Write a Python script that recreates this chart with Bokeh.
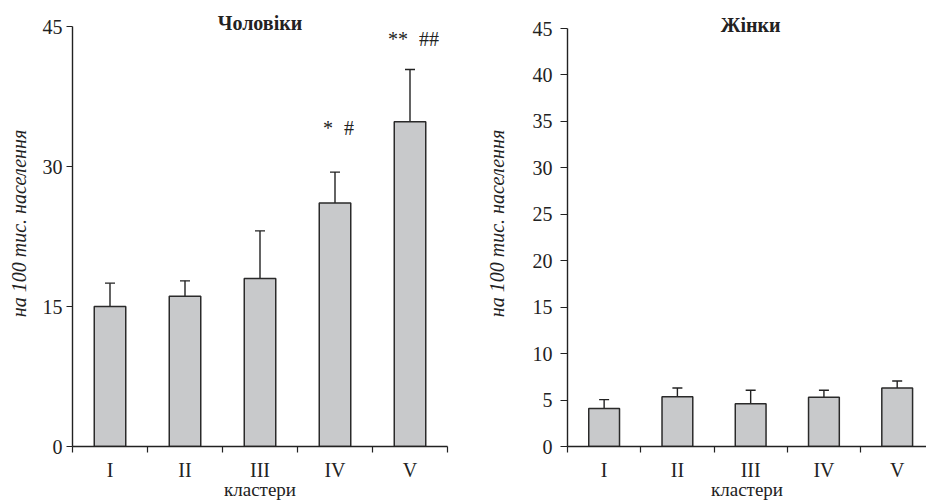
from bokeh.plotting import figure
from bokeh.models import Range1d, FixedTicker, Whisker, TeeHead, ColumnDataSource, Label
from bokeh.layouts import row
from bokeh.embed import file_html
from bokeh.resources import INLINE
from bokeh.core.properties import value

clusters = ["I", "II", "III", "IV", "V"]

men_rate = [15.0, 16.1, 18.0, 26.1, 34.8]
men_lower = [12.7, 14.1, 13.2, 22.6, 29.2]
men_upper = [17.5, 17.75, 23.1, 29.4, 40.4]
men_sig_star = ["", "", "", "*", "**"]
men_sig_hash = ["", "", "", "#", "##"]
men_sig_y = [None, None, None, 34.1, 43.7]

women_rate = [4.1, 5.35, 4.6, 5.3, 6.3]
women_lower = [3.15, 4.6, 2.9, 4.6, 5.35]
women_upper = [5.05, 6.3, 6.05, 6.05, 7.05]

men_yticks = [0, 15, 30, 45]
women_yticks = [0, 5, 10, 15, 20, 25, 30, 35, 40, 45]

SERIF = "Liberation Serif"
INK = "#222222"
HEIGHT = 502
BOTTOM = 56


def make(title, rate, lower, upper, yticks, width, x_end, bl, br, top_px,
         ylab_standoff, ytick_out, ytick_standoff):
    ymax = max(yticks)
    frame_h = HEIGHT - BOTTOM
    y_top = ymax * frame_h / (frame_h - top_px)
    xs = [i + 0.5 for i in range(len(clusters))]
    src = ColumnDataSource(dict(x=xs, top=rate, lower=lower, upper=upper))
    p = figure(width=width, height=HEIGHT, x_range=Range1d(0, x_end), y_range=Range1d(0, y_top),
               output_backend="svg", toolbar_location=None,
               min_border_left=bl, min_border_right=br, min_border_top=0, min_border_bottom=BOTTOM)
    p.outline_line_color = None
    p.xgrid.visible = False
    p.ygrid.visible = False
    p.background_fill_color = "white"
    p.border_fill_color = "white"

    p.vbar(x="x", top="top", bottom=0, width=0.42, source=src,
           fill_color="#c8c9cb", line_color="#2a2a2a", line_width=1.5)
    wh = Whisker(source=src, base="x", upper="upper", lower="lower",
                 line_color=INK, line_width=1.4,
                 upper_head=TeeHead(size=10, line_color=INK, line_width=1.4),
                 lower_head=TeeHead(size=10, line_color=INK, line_width=1.4))
    p.add_layout(wh)

    # x axis: labels at category centres, ticks between categories
    xa = p.xaxis[0]
    xa.ticker = FixedTicker(ticks=xs, minor_ticks=list(range(len(clusters) + 1)))
    xa.major_label_overrides = {x: c for x, c in zip(xs, clusters)}
    xa.major_tick_out = 0
    xa.major_tick_in = 0
    xa.minor_tick_out = 6
    xa.minor_tick_in = 0
    xa.minor_tick_line_color = INK
    xa.minor_tick_line_width = 1.2
    xa.axis_line_color = INK
    xa.axis_line_width = 1.4
    xa.major_label_text_font = SERIF
    xa.major_label_text_font_size = "20px"
    xa.major_label_text_color = INK
    xa.major_label_standoff = 6
    xa.axis_label = "кластери"
    xa.axis_label_text_font = SERIF
    xa.axis_label_text_font_style = "normal"
    xa.axis_label_text_font_size = "19px"
    xa.axis_label_text_color = INK
    xa.axis_label_standoff = -5

    ya = p.yaxis[0]
    ya.bounds = (0, ymax)
    ya.ticker = FixedTicker(ticks=yticks)
    ya.major_tick_out = ytick_out
    ya.major_tick_in = 0
    ya.minor_tick_line_color = None
    ya.major_tick_line_color = INK
    ya.major_tick_line_width = 1.2
    ya.axis_line_color = INK
    ya.axis_line_width = 1.4
    ya.major_label_text_font = SERIF
    ya.major_label_text_font_size = "20px"
    ya.major_label_text_color = INK
    ya.major_label_standoff = ytick_standoff
    ya.axis_label = "на 100 тис. населення"
    ya.axis_label_text_font = SERIF
    ya.axis_label_text_font_style = "italic"
    ya.axis_label_text_font_size = "20px"
    ya.axis_label_text_color = INK
    ya.axis_label_standoff = ylab_standoff

    p.add_layout(Label(x=2.5, y=ymax, text=title, text_align="center", text_baseline="middle",
                       y_offset=4, text_font=SERIF, text_font_style="bold",
                       text_font_size="20px", text_color=INK))
    return p, xs


left, xs = make("Чоловіки", men_rate, men_lower, men_upper, men_yticks,
                470, 5, 72, 23, 26, 10, 6, 4)

sx, sy, st, sh = [], [], [], []
for x, s, h, y in zip(xs, men_sig_star, men_sig_hash, men_sig_y):
    if y is not None:
        sx.append(x); sy.append(y); st.append(s); sh.append(h)
sig = ColumnDataSource(dict(x=sx, y=sy, star=st, hash=sh))
left.text(x="x", y="y", text="star", source=sig, text_align="right", text_baseline="middle",
          x_offset=-2, text_font=value(SERIF), text_font_size="20px", text_color=INK)
left.text(x="x", y="y", text="hash", source=sig, text_align="left", text_baseline="middle",
          x_offset=9, text_font=value(SERIF), text_font_size="20px", text_color=INK)

right, _ = make("Жінки", women_rate, women_lower, women_upper, women_yticks,
                456, 4.9, 97, 0, 28, 22, 7, 8)

layout = row(left, right)
open("out.html", "w").write(file_html(layout, INLINE))
